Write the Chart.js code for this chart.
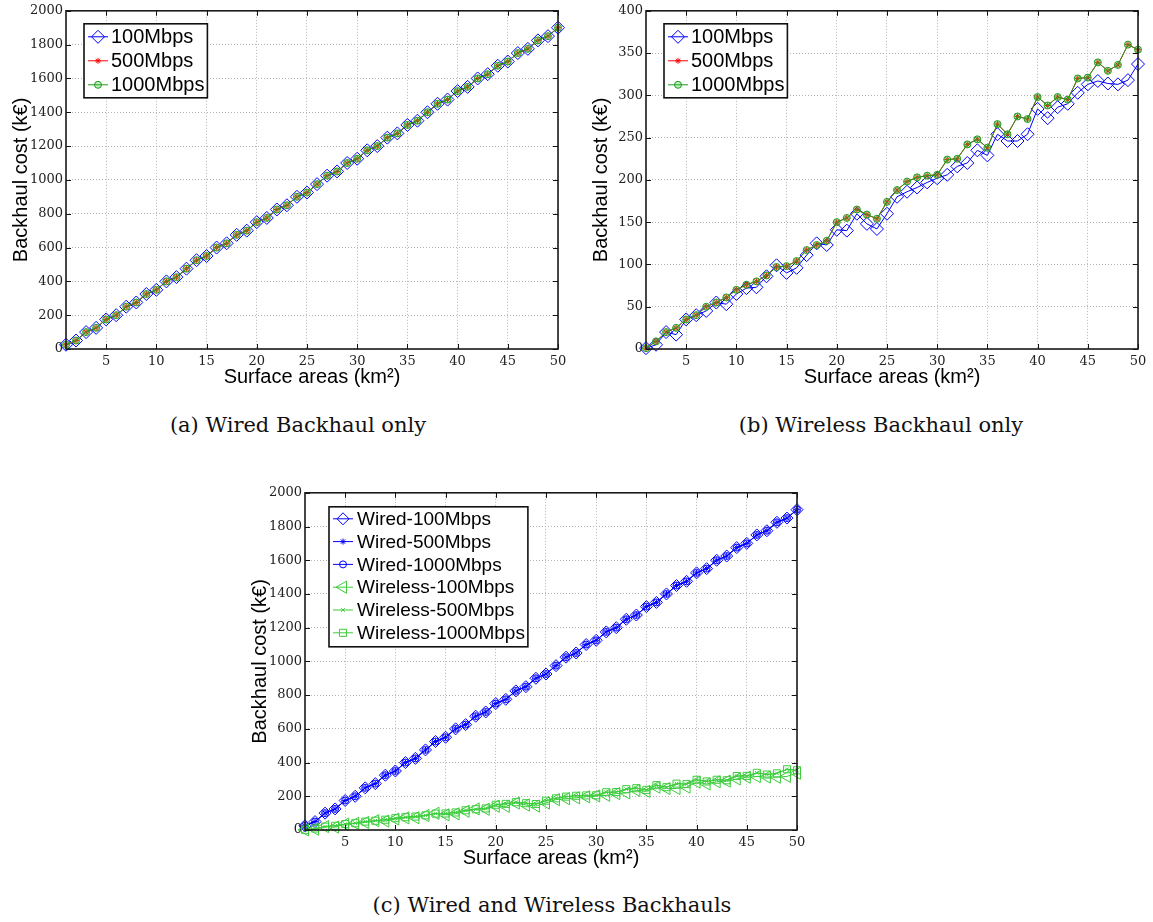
<!DOCTYPE html>
<html>
<head>
<meta charset="utf-8">
<script src="https://cdn.jsdelivr.net/npm/chart.js@4"></script>
<style>
  html, body { margin: 0; padding: 0; background: #fff; }
  body { width: 1153px; height: 922px; overflow: hidden; position: relative; }
  canvas { position: absolute; }
  .cap {
    position: absolute;
    font-family: "DejaVu Serif", serif;
    font-size: 21px;
    color: #111;
    white-space: nowrap;
    transform: translate(-50%, -50%);
  }
</style>
</head>
<body>
<canvas id="wired" width="576" height="400" style="left:0px;top:0px"></canvas>
<canvas id="wireless" width="573" height="400" style="left:580px;top:0px"></canvas>
<canvas id="both" width="576" height="400" style="left:239px;top:482px"></canvas>
<div class="cap" style="left:298px;top:425px">(a) Wired Backhaul only</div>
<div class="cap" style="left:881px;top:425px">(b) Wireless Backhaul only</div>
<div class="cap" style="left:552px;top:905px">(c) Wired and Wireless Backhauls</div>

<script>
// Surface area of the served region (km²)
const areas = [1, 2, 3, 4, 5, 6, 7, 8, 9, 10, 11, 12, 13, 14, 15, 16, 17, 18, 19, 20,
  21, 22, 23, 24, 25, 26, 27, 28, 29, 30, 31, 32, 33, 34, 35, 36, 37, 38, 39, 40,
  41, 42, 43, 44, 45, 46, 47, 48, 49, 50];

// Wired backhaul cost (k€) – identical for all three capacities
const wired100 = [25, 50, 100, 125, 175, 200, 250, 275, 325, 350, 400, 425, 475, 525, 550,
  600, 625, 675, 700, 750, 775, 825, 850, 900, 925, 975, 1025, 1050, 1100, 1125, 1175, 1200,
  1250, 1275, 1325, 1350, 1400, 1450, 1475, 1525, 1550, 1600, 1625, 1675, 1700, 1750, 1775,
  1825, 1850, 1900];
const wired500 = wired100.slice();
const wired1000 = wired100.slice();

// Wireless backhaul cost (k€)
const wireless100 = [1, 5, 20, 17, 35, 40, 45, 55, 53, 65, 72, 73, 86, 99, 90, 96, 111, 125,
  123, 141, 140, 160, 148, 142, 160, 180, 186, 191, 197, 202, 206, 216, 220, 235, 229, 254,
  246, 246, 254, 284, 273, 286, 290, 303, 313, 317, 314, 313, 318, 337];
const wireless500 = [1, 9, 20, 25, 35, 40, 50, 55, 61, 70, 76, 80, 87, 97, 98, 104, 117, 123,
  128, 150, 155, 165, 159, 154, 174, 188, 198, 203, 205, 206, 224, 225, 242, 248, 238, 266,
  254, 275, 272, 298, 288, 298, 295, 320, 321, 339, 329, 336, 360, 354];
const wireless1000 = wireless500.slice();

// Tick values
const xTickValues = [5, 10, 15, 20, 25, 30, 35, 40, 45, 50];
const wiredYTicks = [0, 200, 400, 600, 800, 1000, 1200, 1400, 1600, 1800, 2000];
const wirelessYTicks = [0, 50, 100, 150, 200, 250, 300, 350, 400];

const xTitle = 'Surface areas (km²)';
const yTitle = 'Backhaul cost (k€)';

const BLUE = '#0000ff';
const RED = '#ff0000';
const GREEN = '#1e9a1e';
const LGREEN = '#3ccc3c';

function points(values) {
  return areas.map((a, i) => ({ x: a, y: values[i] }));
}

function series(label, values, style) {
  return Object.assign({
    label,
    data: points(values),
    borderWidth: 1,
    pointBorderWidth: 1,
    pointBackgroundColor: 'rgba(0,0,0,0)',
    tension: 0,
    clip: false,
  }, style);
}

// Frame, inward tick marks and boxed legend drawn on top of the plot
const framePlugin = {
  id: 'frame',
  afterDraw(chart, args, opts) {
    const { ctx, chartArea: a } = chart;
    const xs = chart.scales.x, ys = chart.scales.y;
    ctx.save();
    ctx.strokeStyle = '#111';
    ctx.lineWidth = 1;
    ctx.beginPath();
    const tl = 5;
    xs.ticks.forEach(t => {
      const px = Math.round(xs.getPixelForValue(t.value)) + 0.5;
      ctx.moveTo(px, a.bottom); ctx.lineTo(px, a.bottom - tl);
      ctx.moveTo(px, a.top); ctx.lineTo(px, a.top + tl);
    });
    ys.ticks.forEach(t => {
      const py = Math.round(ys.getPixelForValue(t.value)) + 0.5;
      ctx.moveTo(a.left, py); ctx.lineTo(a.left + tl, py);
      ctx.moveTo(a.right, py); ctx.lineTo(a.right - tl, py);
    });
    ctx.stroke();
    ctx.lineWidth = 1.6;
    ctx.strokeStyle = '#1a1a1a';
    ctx.strokeRect(a.left, a.top, a.right - a.left, a.bottom - a.top);

    // legend
    const L = opts;
    const items = chart.data.datasets;
    ctx.font = L.fontSize + 'px "Liberation Sans", Arial, sans-serif';
    let maxW = 0;
    items.forEach(d => { maxW = Math.max(maxW, ctx.measureText(d.label).width); });
    const bx = a.left + L.dx, by = a.top + L.dy;
    const bw = L.textX + maxW + L.padR;
    const bh = L.firstRow + (items.length - 1) * L.rowH + L.lastPad;
    ctx.fillStyle = '#fff';
    ctx.fillRect(bx, by, bw, bh);
    ctx.lineWidth = 1.6;
    ctx.strokeStyle = '#111';
    ctx.strokeRect(bx, by, bw, bh);
    items.forEach((d, i) => {
      const cy = by + L.firstRow + i * L.rowH;
      ctx.strokeStyle = d.borderColor;
      ctx.lineWidth = d.borderWidth;
      ctx.beginPath();
      ctx.moveTo(bx + L.lineX0, cy);
      ctx.lineTo(bx + L.lineX1, cy);
      ctx.stroke();
      const cx = bx + (L.lineX0 + L.lineX1) / 2;
      ctx.fillStyle = d.pointBackgroundColor;
      ctx.strokeStyle = d.pointBorderColor || d.borderColor;
      ctx.lineWidth = d.pointBorderWidth;
      Chart.helpers.drawPoint(ctx, {
        pointStyle: d.pointStyle,
        rotation: d.pointRotation || 0,
        radius: d.pointRadius,
        borderWidth: d.pointBorderWidth,
      }, cx, cy);
      ctx.fillStyle = '#000';
      ctx.textBaseline = 'middle';
      ctx.textAlign = 'left';
      ctx.fillText(d.label, bx + L.textX, cy + 1);
    });
    ctx.restore();
  }
};

function makeChart(id, datasets, yTicks, geom, legend) {
  const tickFont = { family: '"DejaVu Serif", serif', size: 13 };
  const titleFont = { family: '"Liberation Sans", Arial, sans-serif', size: 20 };
  return new Chart(document.getElementById(id), {
    type: 'line',
    data: { datasets },
    plugins: [framePlugin],
    options: {
      responsive: false,
      animation: false,
      devicePixelRatio: 1,
      events: [],
      layout: { padding: { left: 0, top: geom.top, right: geom.right, bottom: 0 } },
      plugins: {
        legend: { display: false },
        tooltip: { enabled: false },
        frame: legend,
      },
      scales: {
        x: {
          type: 'linear',
          min: 1,
          max: 50,
          afterBuildTicks: s => { s.ticks = xTickValues.map(v => ({ value: v })); },
          afterFit: s => { s.height = geom.xh; },
          ticks: { font: tickFont, color: '#222', padding: 5, maxRotation: 0,
                   callback: v => String(v) },
          grid: { color: '#b4b4b4', lineWidth: 1, drawTicks: false },
          border: { display: false, dash: [1, 2] },
          title: { display: true, text: xTitle, font: titleFont, color: '#000',
                   padding: { top: 0, bottom: geom.xtp } },
        },
        y: {
          type: 'linear',
          min: yTicks[0],
          max: yTicks[yTicks.length - 1],
          afterBuildTicks: s => { s.ticks = yTicks.map(v => ({ value: v })); },
          afterFit: s => { s.width = geom.yw; },
          ticks: { font: tickFont, color: '#222', padding: 3, callback: v => String(v) },
          grid: { color: '#b4b4b4', lineWidth: 1, drawTicks: false },
          border: { display: false, dash: [1, 2] },
          title: { display: true, text: yTitle, font: titleFont, color: '#000',
                   padding: { top: geom.ytp, bottom: 0 } },
        },
      },
    },
  });
}

// (a) wired backhaul only
makeChart('wired', [
  series('100Mbps', wired100, { borderColor: BLUE, pointStyle: 'rectRot', pointRadius: 6.5, order: 3 }),
  series('500Mbps', wired500, { borderColor: RED, pointStyle: 'star', pointRadius: 3, order: 2 }),
  series('1000Mbps', wired1000, { borderColor: GREEN, pointStyle: 'circle', pointRadius: 3.5,
    pointBackgroundColor: 'rgba(40,200,40,0.3)', order: 1 }),
], wiredYTicks, { top: 9, right: 18, xh: 51, yw: 66, xtp: 11, ytp: 9 },
  { dx: 18, dy: 13, fontSize: 20, firstRow: 13, rowH: 24, lastPad: 13,
    lineX0: 4, lineX1: 24, textX: 27, padR: 3 });

// (b) wireless backhaul only
makeChart('wireless', [
  series('100Mbps', wireless100, { borderColor: BLUE, pointStyle: 'rectRot', pointRadius: 6.5, order: 3 }),
  series('500Mbps', wireless500, { borderColor: RED, pointStyle: 'star', pointRadius: 3, order: 2 }),
  series('1000Mbps', wireless1000, { borderColor: GREEN, pointStyle: 'circle', pointRadius: 3.5,
    pointBackgroundColor: 'rgba(40,200,40,0.3)', order: 1 }),
], wirelessYTicks, { top: 9, right: 15, xh: 51, yw: 66, xtp: 11, ytp: 9 },
  { dx: 18, dy: 13, fontSize: 20, firstRow: 13, rowH: 24, lastPad: 13,
    lineX0: 4, lineX1: 24, textX: 27, padR: 3 });

// (c) wired and wireless together
makeChart('both', [
  series('Wired-100Mbps', wired100, { borderColor: BLUE, pointStyle: 'rectRot', pointRadius: 6, order: 6 }),
  series('Wired-500Mbps', wired500, { borderColor: BLUE, pointStyle: 'star', pointRadius: 3, order: 5 }),
  series('Wired-1000Mbps', wired1000, { borderColor: BLUE, pointStyle: 'circle', pointRadius: 3.5, order: 4 }),
  series('Wireless-100Mbps', wireless100, { borderColor: LGREEN, pointStyle: 'triangle', pointRotation: -90,
    pointRadius: 7, order: 3 }),
  series('Wireless-500Mbps', wireless500, { borderColor: LGREEN, pointStyle: 'crossRot', pointRadius: 2.5, order: 2 }),
  series('Wireless-1000Mbps', wireless1000, { borderColor: LGREEN, pointStyle: 'rect', pointRadius: 5, order: 1 }),
], wiredYTicks, { top: 9, right: 18, xh: 52, yw: 66, xtp: 12, ytp: 9 },
  { dx: 24, dy: 14, fontSize: 19, firstRow: 12, rowH: 22.8, lastPad: 14,
    lineX0: 4, lineX1: 24, textX: 28, padR: 3 });
</script>
</body>
</html>
